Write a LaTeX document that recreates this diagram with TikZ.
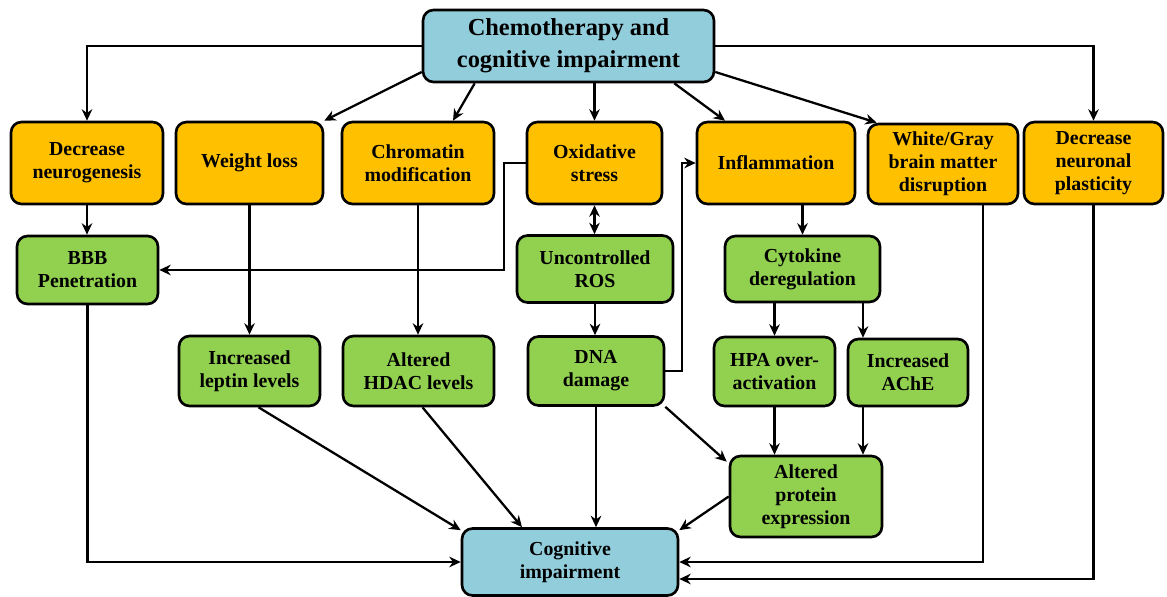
\documentclass[tikz,border=0pt]{standalone}
\usepackage{fontspec}
\setmainfont{Liberation Serif}
\usetikzlibrary{arrows.meta,calc}
\definecolor{amber}{HTML}{FFC000}
\definecolor{leafgreen}{HTML}{92D050}
\definecolor{paleblue}{HTML}{92CDDC}

\begin{document}
\begin{tikzpicture}[x=0.02cm,y=-0.02cm,
  >={Stealth[length=6.5pt,width=6pt]},
  box/.style={draw=black,line width=1.5pt,rounded corners=6pt,align=center,inner sep=1pt,
    font=\fontsize{11.3}{13}\selectfont\bfseries},
  cause/.style={box,fill=amber,minimum height=1.64cm},
  effect/.style={box,fill=leafgreen},
  outcome/.style={box,fill=paleblue},
  arrowline/.style={line width=1.3pt,->}]
  \useasboundingbox (0,0) rectangle (1167,597);

  % Top: the treatment
  \node[outcome,minimum width=5.82cm,minimum height=1.44cm,
    font=\fontsize{13.9}{18}\selectfont\bfseries] (chemo) at (568.5,46) {Chemotherapy and\\cognitive impairment};

  % Orange row: mechanisms
  \node[cause,minimum width=3.04cm] (neuro) at (87,163) {Decrease\\neurogenesis};
  \node[cause,minimum width=2.94cm] (weight) at (249.5,163) {Weight loss};
  \node[cause,minimum width=3.04cm] (chrom) at (418,163) {Chromatin\\modification};
  \node[cause,minimum width=2.70cm] (oxid) at (594.5,163) {Oxidative\\stress};
  \node[cause,minimum width=3.16cm] (inflam) at (776,163) {Inflammation};
  \node[cause,minimum width=3.00cm,minimum height=1.60cm] (matter) at (943,164) {White/Gray\\brain matter\\disruption};
  \node[cause,minimum width=2.78cm] (plast) at (1093.5,163) {Decrease\\neuronal\\plasticity};

  % Green rows: consequences
  \node[effect,minimum width=2.82cm,minimum height=1.36cm] (bbb) at (87.5,270) {BBB\\Penetration};
  \node[effect,minimum width=3.12cm,minimum height=1.34cm] (ros) at (595,269) {Uncontrolled\\ROS};
  \node[effect,minimum width=3.10cm,minimum height=1.32cm] (cyto) at (802.5,269) {Cytokine\\deregulation};
  \node[effect,minimum width=2.82cm,minimum height=1.40cm] (leptin) at (249.5,371) {Increased\\leptin levels};
  \node[effect,minimum width=3.02cm,minimum height=1.40cm] (hdac) at (418.5,371) {Altered\\HDAC levels};
  \node[effect,minimum width=2.72cm,minimum height=1.38cm] (dna) at (596,371) {DNA\\damage};
  \node[effect,minimum width=2.42cm,minimum height=1.38cm] (hpa) at (774.5,371.5) {HPA over-\\activation};
  \node[effect,minimum width=2.40cm,minimum height=1.34cm] (ache) at (908,372.5) {Increased\\AChE};
  \node[effect,minimum width=3.04cm,minimum height=1.62cm] (prot) at (806,496.5) {Altered\\protein\\expression};

  % Bottom: the outcome
  \node[outcome,minimum width=4.32cm,minimum height=1.34cm] (cog) at (570,562) {Cognitive\\impairment};

  % From the top box
  \draw[arrowline] (chemo.west) -| (neuro.north);
  \draw[arrowline] ($(chemo.west)+(0,26)$) -- (weight.north east);
  \draw[arrowline] ($(chemo.south west)+(53,0)$) -- ($(chrom.north)+(35,0)$);
  \draw[arrowline] (oxid.north |- chemo.south) -- (oxid.north);
  \draw[arrowline] ($(chemo.south east)+(-41,0)$) -- ($(inflam.north)+(-51,0)$);
  \draw[arrowline] ($(chemo.east)+(0,26)$) -- ($(matter.north west)+(10,0)$);
  \draw[arrowline] (chemo.east) -| (plast.north);

  % Middle links
  \draw[arrowline] (neuro.south) -- (neuro.south |- bbb.north);
  \draw[arrowline] (oxid.west) -- ++(-22,0) |- (bbb.east);
  \draw[arrowline] (weight.south) -- (leptin.north);
  \draw[arrowline] (chrom.south) -- (chrom.south |- hdac.north);
  \draw[arrowline,<->] (oxid.south) -- (oxid.south |- ros.north);
  \draw[arrowline] (ros.south) -- (ros.south |- dna.north);
  \draw[arrowline] (dna.east) -- ++(17,0) |- (inflam.west);
  \draw[arrowline] (cyto.north |- inflam.south) -- (cyto.north);
  \draw[arrowline] (hpa.north |- cyto.south) -- (hpa.north);
  \coordinate (cyA) at ($(ache.north)+(-45,0)$);
  \draw[arrowline] (cyA |- cyto.south) -- (cyA);
  \draw[arrowline] (hpa.south) -- (hpa.south |- prot.north);
  \coordinate (acA) at ($(ache.south)+(-45,0)$);
  \draw[arrowline] (acA) -- (acA |- prot.north);
  \draw[arrowline] (dna.south east) -- ($(prot.north west)+(-2,7)$);

  % Into cognitive impairment
  \draw[arrowline] (dna.south) -- (dna.south |- cog.north);
  \draw[arrowline] ($(hdac.south)+(4,0)$) -- ($(cog.north)+(-48,0)$);
  \draw[arrowline] ($(leptin.south)+(9,0)$) -- ($(cog.north west)+(0,3)$);
  \draw[arrowline] (bbb.south) |- (cog.west);
  \draw[arrowline] (prot.west) -- ($(cog.north east)+(0,3)$);
  \draw[arrowline] ($(matter.south)+(40,0)$) |- (cog.east);
  \draw[arrowline] (plast.south) |- ($(cog.east)+(0,17)$);
\end{tikzpicture}
\end{document}
